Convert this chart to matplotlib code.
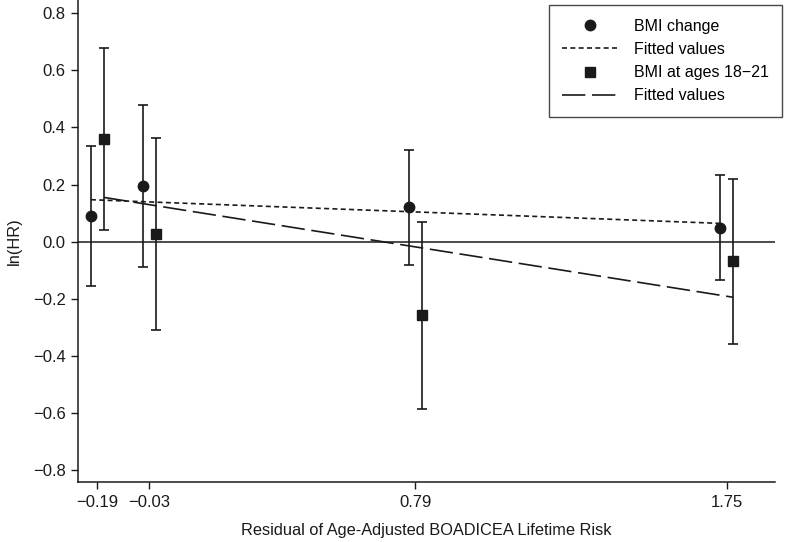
import numpy as np
import matplotlib.pyplot as plt

plt.rcParams['font.family'] = ['Liberation Sans', 'DejaVu Sans']

# x positions (residual of lifetime risk)
risk = [-0.19, -0.03, 0.79, 1.75]
risk_labels = ['\u22120.19', '\u22120.03', '0.79', '1.75']

# BMI change: ln(HR) with 95% CI
chg_hr = [0.089, 0.194, 0.120, 0.048]
chg_lo = [-0.154, -0.090, -0.082, -0.133]
chg_hi = [0.334, 0.480, 0.322, 0.232]
chg_fit = [0.147, 0.140, 0.105, 0.064]

# BMI at ages 18-21
yng_hr = [0.358, 0.027, -0.257, -0.068]
yng_lo = [0.041, -0.309, -0.585, -0.357]
yng_hi = [0.678, 0.364, 0.068, 0.220]
yng_fit = [0.155, 0.126, -0.022, -0.195]

yticks = [-0.8, -0.6, -0.4, -0.2, 0.0, 0.2, 0.4, 0.6, 0.8]

c = '#1a1a1a'
off = 0.02

fig = plt.figure(figsize=(7.89, 5.42), dpi=100)
ax = fig.add_axes([0.0992, 0.1107, 0.883, 0.889])

x = np.array(risk)
xc = x - off
xs = x + off

ax.axhline(0, color=c, lw=1.1, zorder=1)

def errs(v, lo, hi):
    v = np.array(v)
    return [v - np.array(lo), np.array(hi) - v]

ax.errorbar(xc, chg_hr, yerr=errs(chg_hr, chg_lo, chg_hi), fmt='none',
            ecolor=c, elinewidth=1.2, capsize=3.8, capthick=1.2, zorder=2)
ax.errorbar(xs, yng_hr, yerr=errs(yng_hr, yng_lo, yng_hi), fmt='none',
            ecolor=c, elinewidth=1.2, capsize=3.8, capthick=1.2, zorder=2)

h1, = ax.plot(xc, chg_hr, 'o', color=c, ms=7.5, ls='none', zorder=4, label='BMI change')
h2, = ax.plot(xc, chg_fit, color=c, lw=1.2, ls=(0, (3, 2)), zorder=3, label='Fitted values')
h3, = ax.plot(xs, yng_hr, 's', color=c, ms=6.8, ls='none', zorder=4, label='BMI at ages 18\u221221')
h4, = ax.plot(xs, yng_fit, color=c, lw=1.2, ls=(0, (14, 4)), zorder=3, label='Fitted values')

ax.set_xlim(-0.249, 1.898)
ax.set_ylim(-0.842, 0.846)
ax.set_xticks(risk)
ax.set_xticklabels(risk_labels)
ax.set_yticks(yticks)
ax.set_yticklabels([('\u2212%.1f' % -t) if t < 0 else '%.1f' % t for t in yticks])

for s in ['top', 'right']:
    ax.spines[s].set_visible(False)
for s in ['left', 'bottom']:
    ax.spines[s].set_color(c)
    ax.spines[s].set_linewidth(1.1)
ax.tick_params(colors=c, labelsize=12, length=5, width=1.0, pad=4)

ax.set_xlabel('Residual of Age-Adjusted BOADICEA Lifetime Risk', fontsize=11.8, color=c, labelpad=10)
ax.set_ylabel('ln(HR)', fontsize=11.8, color=c, labelpad=8)

leg = ax.legend(handles=[h1, h2, h3, h4], loc='upper right', bbox_to_anchor=(782 / 789, 1 - 5 / 542),
                bbox_transform=fig.transFigure, fontsize=11.5, frameon=True, fancybox=False,
                edgecolor=c, handlelength=3.45, handletextpad=1.0, labelspacing=0.52,
                borderpad=0.85, borderaxespad=0)
leg.get_frame().set_linewidth(1.0)

fig.savefig('out.png', dpi=100)
